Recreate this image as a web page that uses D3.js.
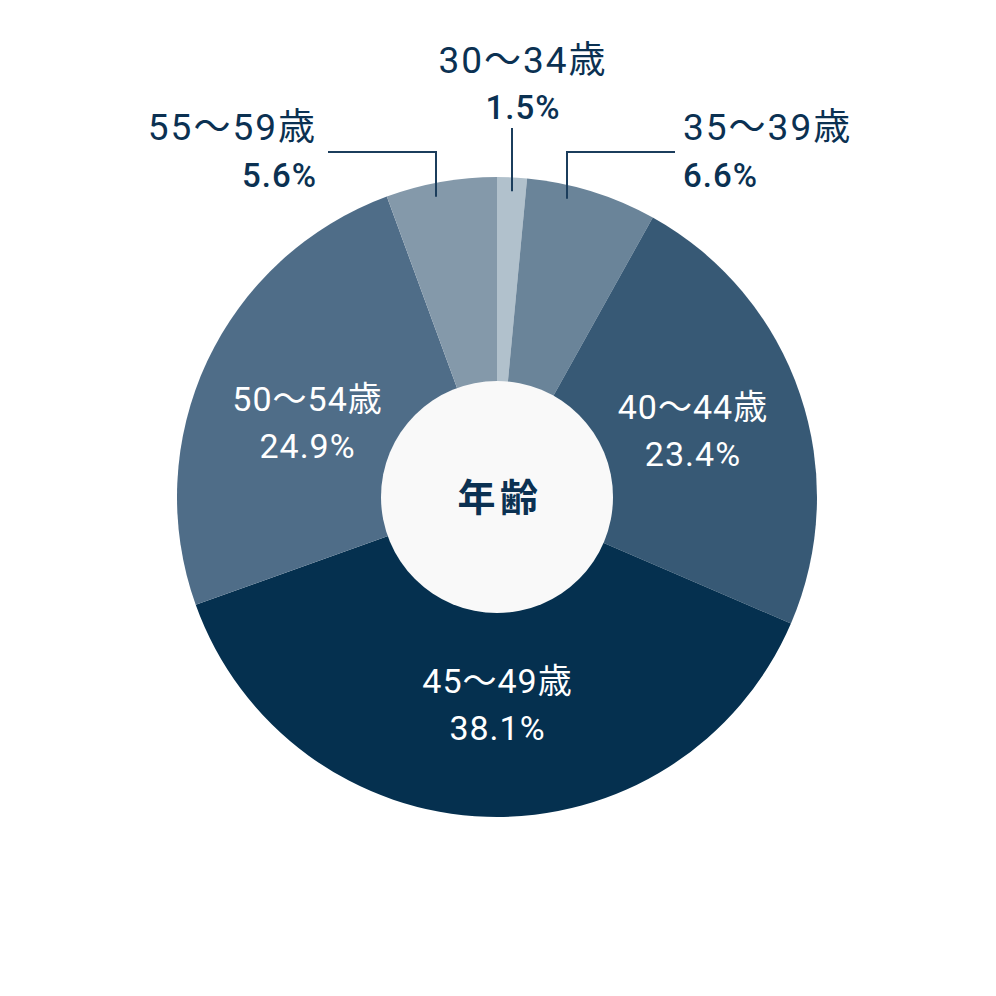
<!DOCTYPE html>
<html>
<head>
<meta charset="utf-8">
<script src="https://cdn.jsdelivr.net/npm/d3@7"></script>
<style>
  body { margin: 0; background: #ffffff; }
  svg { display: block; }
</style>
</head>
<body>
<div id="chart"></div>
<script>
// age bands and their share (%)
const categories = ['30～34歳', '35～39歳', '40～44歳', '45～49歳', '50～54歳', '55～59歳'];
const shares = [1.5, 6.6, 23.4, 38.1, 24.9, 5.6];
const centerTitle = '年齢';

const colors = ['#b1c1cc', '#6a8499', '#375975', '#05304f', '#4f6d88', '#8499aa'];
const labelColor = '#0b3152';

const width = 996, height = 996;
const cx = 497, cy = 497;
const outerR = 320, innerR = 116;

// slices that get an outside label with a leader line
const outside = {
    0: { leaderX: 512, topY: 128, anchor: 'middle', textX: 523, nameY: 73, pctY: 119 },
    1: { leaderX: 567, elbowY: 152, elbowX: 675, anchor: 'start', textX: 683, nameY: 140, pctY: 187 },
    5: { leaderX: 436, elbowY: 152, elbowX: 328, anchor: 'end', textX: 317, nameY: 140, pctY: 187 }
};
// small hand nudges for the inside labels (px)
const innerNudge = { 3: [7, 0], 4: [-2, 13] };

const data = categories.map((c, i) => ({ name: c, value: shares[i], idx: i }));

const svg = d3.select('#chart')
    .append('svg')
    .attr('width', width)
    .attr('height', height)
    .style('font-family', 'Roboto, "Noto Sans CJK JP", sans-serif');

const pie = d3.pie()
    .value(d => d.value)
    .sort(null);

const arc = d3.arc()
    .innerRadius(0)
    .outerRadius(outerR);

const labelArc = d3.arc()
    .innerRadius(207)
    .outerRadius(207);

const arcs = pie(data);

const g = svg.append('g').attr('transform', `translate(${cx},${cy})`);

g.selectAll('path.slice')
    .data(arcs)
    .join('path')
    .classed('slice', true)
    .attr('d', arc)
    .attr('fill', d => colors[d.data.idx]);

// center hole
g.append('circle')
    .attr('r', innerR)
    .attr('fill', '#f9f9f9');

g.append('text')
    .attr('text-anchor', 'middle')
    .attr('dy', '0.36em')
    .attr('x', 3)
    .style('font-family', '"Noto Sans CJK JP", sans-serif')
    .style('font-size', '38px')
    .style('font-weight', 700)
    .style('letter-spacing', '0.12em')
    .attr('fill', labelColor)
    .text(centerTitle);

// labels inside the big slices
arcs.filter(d => !(d.data.idx in outside)).forEach(d => {
    let [x, y] = labelArc.centroid(d);
    const nudge = innerNudge[d.data.idx] || [0, 0];
    x += nudge[0];
    y += nudge[1];
    const t = g.append('text')
        .attr('text-anchor', 'middle')
        .attr('fill', '#ffffff')
        .style('font-size', '34px')
        .style('letter-spacing', '1px');
    t.append('tspan').attr('x', x).attr('y', y - 11).text(d.data.name);
    t.append('tspan').attr('x', x).attr('y', y + 36).text(d.data.value.toFixed(1) + '%');
});

// outside labels with leader lines
arcs.filter(d => d.data.idx in outside).forEach(d => {
    const o = outside[d.data.idx];
    const dx = o.leaderX - cx;
    // leader ends a little inside the outer edge
    const edgeY = cy - Math.sqrt(outerR * outerR - dx * dx) + 14;
    let pts;
    if (o.elbowX !== undefined) {
        pts = [[o.leaderX, edgeY], [o.leaderX, o.elbowY], [o.elbowX, o.elbowY]];
    } else {
        pts = [[o.leaderX, edgeY], [o.leaderX, o.topY]];
    }
    svg.append('path')
        .attr('d', d3.line()(pts))
        .attr('fill', 'none')
        .attr('stroke', '#1b3d5c')
        .attr('stroke-width', 2);

    svg.append('text')
        .attr('x', o.textX)
        .attr('y', o.nameY)
        .attr('text-anchor', o.anchor)
        .attr('fill', labelColor)
        .style('font-size', '37px')
        .style('letter-spacing', '2px')
        .text(d.data.name);

    svg.append('text')
        .attr('x', o.textX)
        .attr('y', o.pctY)
        .attr('text-anchor', o.anchor)
        .attr('fill', labelColor)
        .style('font-size', '33px')
        .style('font-weight', 500)
        .style('letter-spacing', '1px')
        .text(d.data.value.toFixed(1) + '%');
});
</script>
</body>
</html>
